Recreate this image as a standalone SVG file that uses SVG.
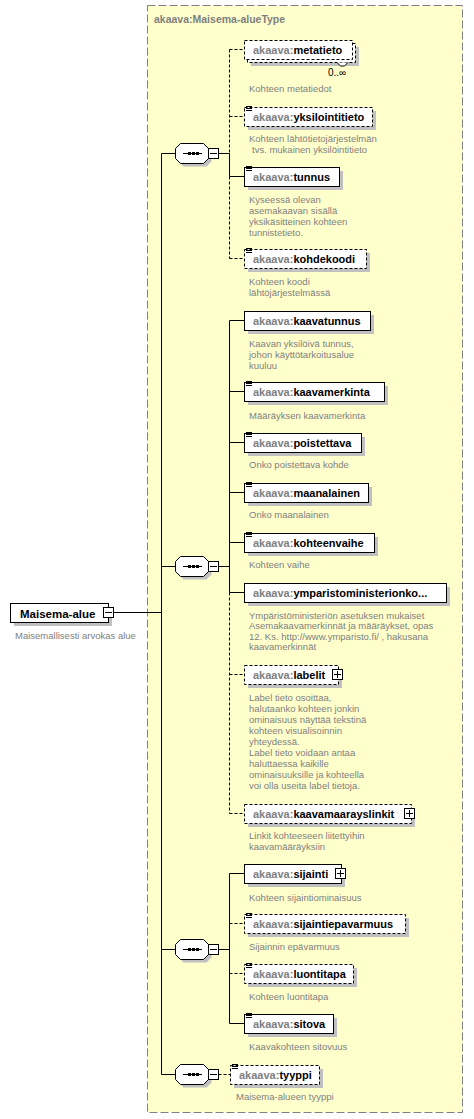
<svg xmlns="http://www.w3.org/2000/svg" xmlns:xlink="http://www.w3.org/1999/xlink" width="474" height="1119" viewBox="0 0 474 1119">
<style>
.bg{fill:#FFFFCC;stroke:#808080;stroke-dasharray:8,3}
.sh{fill:#C0C0C0}
.box{fill:#fff;stroke:#000;stroke-width:1}
.opt{stroke-dasharray:3,2}
.nm{font-family:"Liberation Sans",Arial,sans-serif;font-weight:bold;font-size:11px;fill:#000}
.pre{fill:#808080}
.ds{font-family:"Liberation Sans",Arial,sans-serif;font-size:9.5px;fill:#808080}
.ln{stroke:#000;fill:none;stroke-width:1}
.dl{stroke-dasharray:3,2}
.ic{stroke:#000;stroke-width:1}
</style>
<defs>
<g id="plus"><rect x="0.5" y="0.5" width="10" height="10" class="box"/><path d="M2,5.5H9M5.5,2V9" class="ln"/></g>
<g id="minus"><rect x="0.5" y="0.5" width="10" height="10" class="box"/><path d="M2,5.5H9" class="ln"/></g>
<g id="seq">
<path class="sh" d="M183.5,-6.5 L206.5,-6.5 L211.5,-1.5 L211.5,8.5 L206.5,13.5 L183.5,13.5 L178.5,8.5 L178.5,-1.5Z"/>
<path class="box" d="M180.5,-9.5 L203.5,-9.5 L208.5,-4.5 L208.5,5.5 L203.5,10.5 L180.5,10.5 L175.5,5.5 L175.5,-4.5Z"/>
<path class="ln" d="M183,0.5H202"/>
<rect x="188" y="-1" width="3" height="3"/>
<rect x="192" y="-1" width="3" height="3"/>
<rect x="196" y="-1" width="3" height="3"/>
<use xlink:href="#minus" x="208" y="-5"/>
</g>
<path id="icon" d="M246,0H252M246,2H252M246,4H252" class="ic"/>
</defs>

<rect class="bg" x="147.5" y="5.5" width="315" height="1107"/>
<text x="154" y="23" class="nm" style="font-size:10.5px;fill:#808080">akaava:Maisema-alueType</text>

<g id="connectors">
<path class="ln" d="M112.5,612.5H161.5M161.5,153.5V1074.5M161.5,153.5H175.5M161.5,566.5H175.5M161.5,949.5H175.5M161.5,1074.5H175.5"/>
<path class="ln" d="M218.5,153.5H229.5M229.5,153.5V176.5H244"/>
<path class="ln dl" d="M229.5,49.5V153.5M229.5,176.5V258.5M229.5,49.5H244M229.5,116.5H244M229.5,258.5H244"/>
<path class="ln" d="M218.5,566.5H229.5M229.5,320.5V592.5M229.5,320.5H244M229.5,391.5H244M229.5,442.5H244M229.5,492.5H244M229.5,542.5H244M229.5,592.5H244"/>
<path class="ln dl" d="M229.5,592.5V813.5M229.5,674.5H244M229.5,813.5H244"/>
<path class="ln" d="M218.5,949.5H229.5M229.5,873.5V1023.5M229.5,873.5H244M229.5,1023.5H244"/>
<path class="ln dl" d="M229.5,923.5H244M229.5,973.5H244M218.5,1074.5H230"/>
</g>

<g id="seq1"><use xlink:href="#seq" y="153"/></g>
<g id="seq2"><use xlink:href="#seq" y="566"/></g>
<g id="seq3"><use xlink:href="#seq" y="949"/></g>
<g id="seq4"><use xlink:href="#seq" y="1074"/></g>

<g id="n-root">
<rect class="sh" x="14" y="607" width="98" height="19"/>
<rect class="box" x="10.5" y="603.5" width="98" height="19"/>
<text class="nm" x="20" y="617.5" style="font-size:11.5px">Maisema-alue</text>
<use xlink:href="#minus" x="103" y="607"/>
<text class="ds" x="15" y="638.5">Maisemallisesti arvokas alue</text>
</g>

<g id="n-metatieto">
<rect class="sh" x="251" y="47" width="108" height="19"/>
<rect class="box opt" x="247.5" y="43.5" width="108" height="19"/>
<path class="box" d="M337,62.5l3.5,3.5h4l3.5,-3.5"/>
<rect class="box opt" x="244.5" y="40.5" width="108" height="19"/>
<text class="nm" x="253" y="54"><tspan class="pre">akaava:</tspan>metatieto</text>
<text x="328" y="76" style="font-family:'Liberation Sans',Arial,sans-serif;font-size:10px;fill:#000">0..∞</text>
<text class="ds" x="249" y="91.5">Kohteen metatiedot</text>
</g>

<g id="n-yksilointitieto">
<rect class="sh" x="248" y="111" width="128" height="19"/>
<rect class="box opt" x="244.5" y="107.5" width="128" height="19"/>
<use xlink:href="#icon" y="106.5"/>
<text class="nm" x="253" y="121"><tspan class="pre">akaava:</tspan>yksilointitieto</text>
<text class="ds" x="249" y="141.5">Kohteen lähtötietojärjestelmän</text>
<text class="ds" x="252" y="152.5">tvs. mukainen yksilöintitieto</text>
</g>

<g id="n-tunnus">
<rect class="sh" x="248" y="171" width="95" height="19"/>
<rect class="box" x="244.5" y="167.5" width="95" height="19"/>
<use xlink:href="#icon" y="166.5"/>
<text class="nm" x="253" y="181"><tspan class="pre">akaava:</tspan>tunnus</text>
<text class="ds" x="249" y="202.5">Kyseessä olevan</text>
<text class="ds" x="249" y="213.5">asemakaavan sisällä</text>
<text class="ds" x="249" y="224.5">yksikäsitteinen kohteen</text>
<text class="ds" x="249" y="235.5">tunnistetieto.</text>
</g>

<g id="n-kohdekoodi">
<rect class="sh" x="248" y="253" width="122" height="19"/>
<rect class="box opt" x="244.5" y="249.5" width="122" height="19"/>
<use xlink:href="#icon" y="248.5"/>
<text class="nm" x="253" y="263"><tspan class="pre">akaava:</tspan>kohdekoodi</text>
<text class="ds" x="249" y="284.5">Kohteen koodi</text>
<text class="ds" x="249" y="296">lähtöjärjestelmässä</text>
</g>

<g id="n-kaavatunnus">
<rect class="sh" x="248" y="315" width="126" height="19"/>
<rect class="box" x="244.5" y="311.5" width="126" height="19"/>
<text class="nm" x="253" y="325"><tspan class="pre">akaava:</tspan>kaavatunnus</text>
<text class="ds" x="249" y="346.5">Kaavan yksilöivä tunnus,</text>
<text class="ds" x="249" y="357.5">johon käyttötarkoitusalue</text>
<text class="ds" x="249" y="368.5">kuuluu</text>
</g>

<g id="n-kaavamerkinta">
<rect class="sh" x="248" y="386" width="140" height="19"/>
<rect class="box" x="244.5" y="382.5" width="140" height="19"/>
<use xlink:href="#icon" y="381.5"/>
<text class="nm" x="253" y="396"><tspan class="pre">akaava:</tspan>kaavamerkinta</text>
<text class="ds" x="249" y="418.5">Määräyksen kaavamerkinta</text>
</g>

<g id="n-poistettava">
<rect class="sh" x="248" y="437" width="117" height="19"/>
<rect class="box" x="244.5" y="433.5" width="117" height="19"/>
<use xlink:href="#icon" y="432.5"/>
<text class="nm" x="253" y="447"><tspan class="pre">akaava:</tspan>poistettava</text>
<text class="ds" x="249" y="467.5">Onko poistettava kohde</text>
</g>

<g id="n-maanalainen">
<rect class="sh" x="248" y="487" width="124" height="19"/>
<rect class="box" x="244.5" y="483.5" width="124" height="19"/>
<use xlink:href="#icon" y="482.5"/>
<text class="nm" x="253" y="497"><tspan class="pre">akaava:</tspan>maanalainen</text>
<text class="ds" x="249" y="517.5">Onko maanalainen</text>
</g>

<g id="n-kohteenvaihe">
<rect class="sh" x="248" y="537" width="130" height="19"/>
<rect class="box" x="244.5" y="533.5" width="130" height="19"/>
<use xlink:href="#icon" y="532.5"/>
<text class="nm" x="253" y="547"><tspan class="pre">akaava:</tspan>kohteenvaihe</text>
<text class="ds" x="249" y="567.5">Kohteen vaihe</text>
</g>

<g id="n-ymparistoministerionko">
<rect class="sh" x="248" y="587" width="202" height="19"/>
<rect class="box" x="244.5" y="583.5" width="202" height="19"/>
<text class="nm" x="253" y="597"><tspan class="pre">akaava:</tspan>ymparistoministerionko...</text>
<text class="ds" x="249" y="618.5">Ympäristöministeriön asetuksen mukaiset</text>
<text class="ds" x="249" y="629">Asemakaavamerkinnät ja määräykset, opas</text>
<text class="ds" x="249" y="639.5">12. Ks. http://www.ymparisto.fi/ , hakusana</text>
<text class="ds" x="249" y="650">kaavamerkinnät</text>
</g>

<g id="n-labelit">
<rect class="sh" x="248" y="669" width="94" height="19"/>
<rect class="box opt" x="244.5" y="665.5" width="94" height="19"/>
<text class="nm" x="253" y="679"><tspan class="pre">akaava:</tspan>labelit</text>
<use xlink:href="#plus" x="332" y="669"/>
<text class="ds" x="249" y="700.5">Label tieto osoittaa,</text>
<text class="ds" x="249" y="711.6">halutaanko kohteen jonkin</text>
<text class="ds" x="249" y="722.7">ominaisuus näyttää tekstinä</text>
<text class="ds" x="249" y="733.8">kohteen visualisoinnin</text>
<text class="ds" x="249" y="744.9">yhteydessä.</text>
<text class="ds" x="249" y="756">Label tieto voidaan antaa</text>
<text class="ds" x="249" y="767.1">haluttaessa kaikille</text>
<text class="ds" x="249" y="778.2">ominaisuuksille ja kohteella</text>
<text class="ds" x="249" y="789.3">voi olla useita label tietoja.</text>
</g>

<g id="n-kaavamaarayslinkit">
<rect class="sh" x="248" y="808" width="167" height="19"/>
<rect class="box opt" x="244.5" y="804.5" width="167" height="19"/>
<text class="nm" x="253" y="818"><tspan class="pre">akaava:</tspan>kaavamaarayslinkit</text>
<use xlink:href="#plus" x="404" y="808"/>
<text class="ds" x="249" y="839">Linkit kohteeseen liitettyihin</text>
<text class="ds" x="249" y="850">kaavamääräyksiin</text>
</g>

<g id="n-sijainti">
<rect class="sh" x="248" y="868" width="97" height="19"/>
<rect class="box" x="244.5" y="864.5" width="97" height="19"/>
<text class="nm" x="253" y="878"><tspan class="pre">akaava:</tspan>sijainti</text>
<use xlink:href="#plus" x="335" y="868"/>
<text class="ds" x="249" y="900.5">Kohteen sijaintiominaisuus</text>
</g>

<g id="n-sijaintiepavarmuus">
<rect class="sh" x="248" y="918" width="161" height="19"/>
<rect class="box opt" x="244.5" y="914.5" width="161" height="19"/>
<use xlink:href="#icon" y="913.5"/>
<text class="nm" x="253" y="928"><tspan class="pre">akaava:</tspan>sijaintiepavarmuus</text>
<text class="ds" x="249" y="950">Sijainnin epävarmuus</text>
</g>

<g id="n-luontitapa">
<rect class="sh" x="248" y="968" width="109" height="19"/>
<rect class="box opt" x="244.5" y="964.5" width="109" height="19"/>
<use xlink:href="#icon" y="963.5"/>
<text class="nm" x="253" y="978"><tspan class="pre">akaava:</tspan>luontitapa</text>
<text class="ds" x="249" y="1000">Kohteen luontitapa</text>
</g>

<g id="n-sitova">
<rect class="sh" x="248" y="1018" width="89" height="19"/>
<rect class="box" x="244.5" y="1014.5" width="89" height="19"/>
<use xlink:href="#icon" y="1013.5"/>
<text class="nm" x="253" y="1028"><tspan class="pre">akaava:</tspan>sitova</text>
<text class="ds" x="249" y="1050">Kaavakohteen sitovuus</text>
</g>

<g id="n-tyyppi">
<rect class="sh" x="234" y="1069" width="89" height="19"/>
<rect class="box opt" x="230.5" y="1065.5" width="89" height="19"/>
<use xlink:href="#icon" x="-14" y="1064.5"/>
<text class="nm" x="239" y="1079"><tspan class="pre">akaava:</tspan>tyyppi</text>
<text class="ds" x="236" y="1100">Maisema-alueen tyyppi</text>
</g>
</svg>
